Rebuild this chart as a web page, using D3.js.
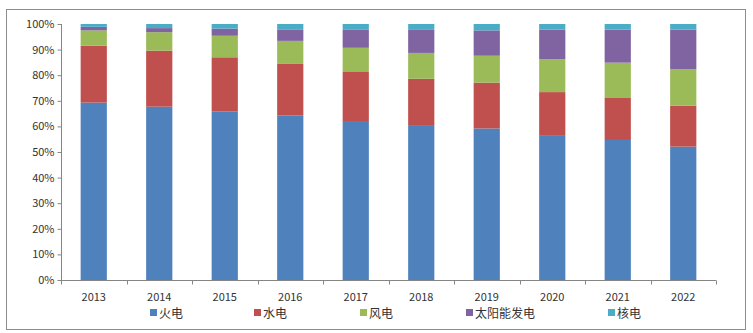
<!DOCTYPE html>
<html><head><meta charset="utf-8">
<script src="https://cdn.jsdelivr.net/npm/d3@7"></script>
<style>body{margin:0;background:#fff}svg{display:block}</style>
</head><body>
<svg id="c" width="753" height="333"></svg>
<script>
const years = ["2013","2014","2015","2016","2017","2018","2019","2020","2021","2022"];
const seriesNames = ["火电","水电","风电","太阳能发电","核电"];
const thermal = [69.3,67.7,65.9,64.2,62.1,60.2,59.2,56.6,54.7,52.1];
const hydro   = [22.2,21.9,21.1,20.2,19.4,18.4,17.9,16.8,16.4,16.0];
const wind    = [6.0,7.2,8.4,9.0,9.2,10.1,10.5,12.8,13.8,14.3];
const solar   = [1.4,1.6,2.8,4.5,7.2,9.0,9.9,11.6,12.9,15.4];
const nuclear = [1.1,1.6,1.8,2.1,2.1,2.3,2.5,2.2,2.2,2.2];
const colors = ["#4F81BD","#C0504D","#9BBB59","#8064A2","#4BACC6"];
const yTicks = [0,10,20,30,40,50,60,70,80,90,100];

const svg = d3.select("#c");
const font = "'Noto Sans CJK SC', 'Liberation Sans', sans-serif";
svg.append("rect").attr("x",6.5).attr("y",9.5).attr("width",739).attr("height",320)
  .attr("fill","#fff").attr("stroke","#8c8c8c").attr("stroke-width",1);

const pLeft=61, pRight=716, pTop=24, pBottom=280;
const x = d3.scaleBand().domain(years).range([pLeft,pRight]).paddingInner(0.6).paddingOuter(0.3);
const xb = d3.scaleBand().domain(years).range([pLeft,pRight]);
const y = d3.scaleLinear().domain([0,100]).range([pBottom,pTop]);

const data = years.map((yr,i)=>({year:yr, s0:thermal[i], s1:hydro[i], s2:wind[i], s3:solar[i], s4:nuclear[i]}));
const stack = d3.stack().keys(["s0","s1","s2","s3","s4"])(data);

svg.append("g").selectAll("g").data(stack).join("g").attr("fill",(d,i)=>colors[i])
  .selectAll("rect").data(d=>d).join("rect")
  .attr("x",d=>x(d.data.year)).attr("width",x.bandwidth())
  .attr("y",d=>y(d[1])).attr("height",d=>y(d[0])-y(d[1]));

// y axis
const gy = svg.append("g").attr("transform",`translate(${pLeft+0.5},0)`)
  .call(d3.axisLeft(y).tickValues(yTicks).tickFormat(d=>d+"%").tickSize(4).tickPadding(3));
gy.selectAll("path,line").attr("stroke","#868686");
gy.select(".domain").attr("d",`M0,${pTop}V${pBottom}`);
gy.selectAll("text").attr("font-family",font).attr("font-size",11).attr("fill","#333");

// x axis
const gx = svg.append("g").attr("transform",`translate(0,${pBottom+0.5})`);
gx.append("line").attr("x1",pLeft).attr("x2",pRight).attr("stroke","#868686");
gx.selectAll("line.t").data(years.concat(["end"])).join("line").attr("class","t")
  .attr("x1",(d,i)=>Math.round(pLeft+i*xb.step())+0.5).attr("x2",(d,i)=>Math.round(pLeft+i*xb.step())+0.5)
  .attr("y1",0).attr("y2",4).attr("stroke","#868686");
gx.selectAll("text").data(years).join("text")
  .attr("x",d=>xb(d)+xb.bandwidth()/2).attr("y",20).attr("text-anchor","middle")
  .attr("font-family",font).attr("font-size",11).attr("fill","#333").text(d=>d);

// legend
const legX = [150,254,360,466,608];
const lg = svg.append("g").selectAll("g").data(seriesNames).join("g")
  .attr("transform",(d,i)=>`translate(${legX[i]},313)`);
lg.append("rect").attr("x",0).attr("y",-4).attr("width",7).attr("height",7).attr("fill",(d,i)=>colors[i]);
lg.append("text").attr("x",9).attr("y",4.5).attr("font-family",font).attr("font-size",12).attr("fill","#333").text(d=>d);
</script>
</body></html>
